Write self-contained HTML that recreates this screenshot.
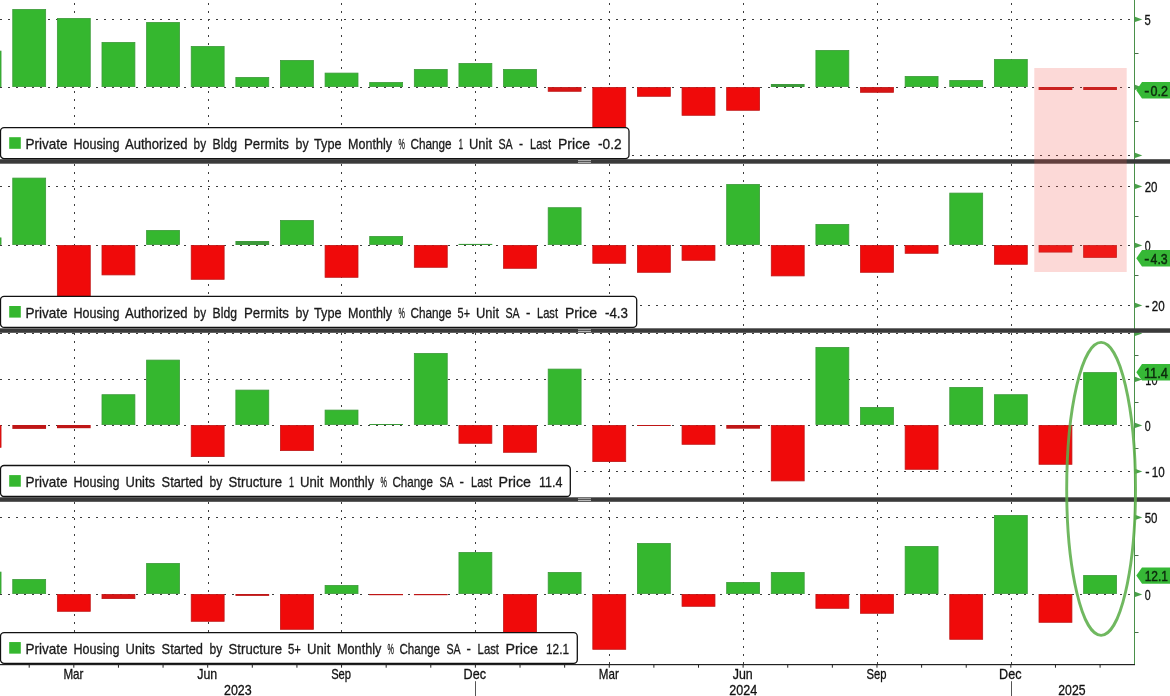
<!DOCTYPE html>
<html lang="en"><head><meta charset="utf-8"><title>Housing permits and starts</title>
<style>html,body{margin:0;padding:0;background:#fff;overflow:hidden}svg{display:block}</style></head>
<body>
<svg width="1170" height="696" viewBox="0 0 1170 696" font-family="'Liberation Sans', sans-serif" font-size="13.5">
<rect width="1170" height="696" fill="#fff"/>
<line x1="0" y1="19.5" x2="1134" y2="19.5" stroke="#3c3c3c" stroke-width="1" stroke-dasharray="2 6"/>
<line x1="0" y1="87.5" x2="1134" y2="87.5" stroke="#3c3c3c" stroke-width="1" stroke-dasharray="2 6"/>
<line x1="0" y1="155.5" x2="1134" y2="155.5" stroke="#3c3c3c" stroke-width="1" stroke-dasharray="2 6"/>
<line x1="74.5" y1="-5" x2="74.5" y2="160" stroke="#3c3c3c" stroke-width="1" stroke-dasharray="2 6"/>
<line x1="208.5" y1="-5" x2="208.5" y2="160" stroke="#3c3c3c" stroke-width="1" stroke-dasharray="2 6"/>
<line x1="341.5" y1="-5" x2="341.5" y2="160" stroke="#3c3c3c" stroke-width="1" stroke-dasharray="2 6"/>
<line x1="475.5" y1="-5" x2="475.5" y2="160" stroke="#3c3c3c" stroke-width="1" stroke-dasharray="2 6"/>
<line x1="609.5" y1="-5" x2="609.5" y2="160" stroke="#3c3c3c" stroke-width="1" stroke-dasharray="2 6"/>
<line x1="743.5" y1="-5" x2="743.5" y2="160" stroke="#3c3c3c" stroke-width="1" stroke-dasharray="2 6"/>
<line x1="877.5" y1="-5" x2="877.5" y2="160" stroke="#3c3c3c" stroke-width="1" stroke-dasharray="2 6"/>
<line x1="1011.5" y1="-5" x2="1011.5" y2="160" stroke="#3c3c3c" stroke-width="1" stroke-dasharray="2 6"/>
<rect x="-31.87" y="51.10" width="32.90" height="35.50" fill="#35b72f" stroke="#3c9a3a" stroke-width="0.8"/>
<rect x="12.75" y="9.40" width="32.90" height="77.20" fill="#35b72f" stroke="#3c9a3a" stroke-width="0.8"/>
<rect x="57.37" y="18.40" width="32.90" height="68.20" fill="#35b72f" stroke="#3c9a3a" stroke-width="0.8"/>
<rect x="101.99" y="42.40" width="32.90" height="44.20" fill="#35b72f" stroke="#3c9a3a" stroke-width="0.8"/>
<rect x="146.61" y="22.40" width="32.90" height="64.20" fill="#35b72f" stroke="#3c9a3a" stroke-width="0.8"/>
<rect x="191.23" y="46.40" width="32.90" height="40.20" fill="#35b72f" stroke="#3c9a3a" stroke-width="0.8"/>
<rect x="235.85" y="77.40" width="32.90" height="9.20" fill="#35b72f" stroke="#3c9a3a" stroke-width="0.8"/>
<rect x="280.47" y="60.40" width="32.90" height="26.20" fill="#35b72f" stroke="#3c9a3a" stroke-width="0.8"/>
<rect x="325.09" y="73.10" width="32.90" height="13.50" fill="#35b72f" stroke="#3c9a3a" stroke-width="0.8"/>
<rect x="369.71" y="82.40" width="32.90" height="4.20" fill="#35b72f" stroke="#3c9a3a" stroke-width="0.8"/>
<rect x="414.33" y="69.40" width="32.90" height="17.20" fill="#35b72f" stroke="#3c9a3a" stroke-width="0.8"/>
<rect x="458.95" y="63.40" width="32.90" height="23.20" fill="#35b72f" stroke="#3c9a3a" stroke-width="0.8"/>
<rect x="503.57" y="69.40" width="32.90" height="17.20" fill="#35b72f" stroke="#3c9a3a" stroke-width="0.8"/>
<rect x="548.19" y="87.40" width="32.90" height="3.90" fill="#d81414" stroke="#bf1616" stroke-width="0.8"/>
<rect x="592.81" y="87.40" width="32.90" height="47.20" fill="#f00a0a" stroke="#bf1616" stroke-width="0.8"/>
<rect x="637.43" y="87.40" width="32.90" height="8.90" fill="#f00a0a" stroke="#bf1616" stroke-width="0.8"/>
<rect x="682.05" y="87.40" width="32.90" height="27.90" fill="#f00a0a" stroke="#bf1616" stroke-width="0.8"/>
<rect x="726.67" y="87.40" width="32.90" height="22.90" fill="#f00a0a" stroke="#bf1616" stroke-width="0.8"/>
<rect x="770.89" y="84.00" width="33.7" height="3.00" fill="#3c9a3a"/>
<rect x="815.91" y="50.40" width="32.90" height="36.20" fill="#35b72f" stroke="#3c9a3a" stroke-width="0.8"/>
<rect x="860.53" y="87.40" width="32.90" height="4.90" fill="#d81414" stroke="#bf1616" stroke-width="0.8"/>
<rect x="905.15" y="76.40" width="32.90" height="10.20" fill="#35b72f" stroke="#3c9a3a" stroke-width="0.8"/>
<rect x="949.77" y="80.40" width="32.90" height="6.20" fill="#35b72f" stroke="#3c9a3a" stroke-width="0.8"/>
<rect x="994.39" y="59.40" width="32.90" height="27.20" fill="#35b72f" stroke="#3c9a3a" stroke-width="0.8"/>
<rect x="1038.61" y="87.00" width="33.7" height="3.00" fill="#bf1616"/>
<rect x="1083.23" y="87.00" width="33.7" height="3.00" fill="#bf1616"/>
<line x1="0" y1="186.5" x2="1134" y2="186.5" stroke="#3c3c3c" stroke-width="1" stroke-dasharray="2 6"/>
<line x1="0" y1="245.5" x2="1134" y2="245.5" stroke="#3c3c3c" stroke-width="1" stroke-dasharray="2 6"/>
<line x1="0" y1="305.5" x2="1134" y2="305.5" stroke="#3c3c3c" stroke-width="1" stroke-dasharray="2 6"/>
<line x1="74.5" y1="164" x2="74.5" y2="328" stroke="#3c3c3c" stroke-width="1" stroke-dasharray="2 6"/>
<line x1="208.5" y1="164" x2="208.5" y2="328" stroke="#3c3c3c" stroke-width="1" stroke-dasharray="2 6"/>
<line x1="341.5" y1="164" x2="341.5" y2="328" stroke="#3c3c3c" stroke-width="1" stroke-dasharray="2 6"/>
<line x1="475.5" y1="164" x2="475.5" y2="328" stroke="#3c3c3c" stroke-width="1" stroke-dasharray="2 6"/>
<line x1="609.5" y1="164" x2="609.5" y2="328" stroke="#3c3c3c" stroke-width="1" stroke-dasharray="2 6"/>
<line x1="743.5" y1="164" x2="743.5" y2="328" stroke="#3c3c3c" stroke-width="1" stroke-dasharray="2 6"/>
<line x1="877.5" y1="164" x2="877.5" y2="328" stroke="#3c3c3c" stroke-width="1" stroke-dasharray="2 6"/>
<line x1="1011.5" y1="164" x2="1011.5" y2="328" stroke="#3c3c3c" stroke-width="1" stroke-dasharray="2 6"/>
<rect x="-31.87" y="237.90" width="32.90" height="6.70" fill="#35b72f" stroke="#3c9a3a" stroke-width="0.8"/>
<rect x="12.75" y="178.10" width="32.90" height="66.50" fill="#35b72f" stroke="#3c9a3a" stroke-width="0.8"/>
<rect x="57.37" y="245.40" width="32.90" height="54.20" fill="#f00a0a" stroke="#bf1616" stroke-width="0.8"/>
<rect x="101.99" y="245.40" width="32.90" height="29.50" fill="#f00a0a" stroke="#bf1616" stroke-width="0.8"/>
<rect x="146.61" y="230.40" width="32.90" height="14.20" fill="#35b72f" stroke="#3c9a3a" stroke-width="0.8"/>
<rect x="191.23" y="245.40" width="32.90" height="33.90" fill="#f00a0a" stroke="#bf1616" stroke-width="0.8"/>
<rect x="235.45" y="241.00" width="33.7" height="4.00" fill="#3c9a3a"/>
<rect x="280.47" y="220.40" width="32.90" height="24.20" fill="#35b72f" stroke="#3c9a3a" stroke-width="0.8"/>
<rect x="325.09" y="245.40" width="32.90" height="31.90" fill="#f00a0a" stroke="#bf1616" stroke-width="0.8"/>
<rect x="369.71" y="236.40" width="32.90" height="8.20" fill="#35b72f" stroke="#3c9a3a" stroke-width="0.8"/>
<rect x="414.33" y="245.40" width="32.90" height="21.90" fill="#f00a0a" stroke="#bf1616" stroke-width="0.8"/>
<rect x="458.55" y="243.90" width="33.7" height="1.10" fill="#3c9a3a"/>
<rect x="503.57" y="245.40" width="32.90" height="22.90" fill="#f00a0a" stroke="#bf1616" stroke-width="0.8"/>
<rect x="548.19" y="207.70" width="32.90" height="36.90" fill="#35b72f" stroke="#3c9a3a" stroke-width="0.8"/>
<rect x="592.81" y="245.40" width="32.90" height="17.90" fill="#f00a0a" stroke="#bf1616" stroke-width="0.8"/>
<rect x="637.43" y="245.40" width="32.90" height="26.90" fill="#f00a0a" stroke="#bf1616" stroke-width="0.8"/>
<rect x="682.05" y="245.40" width="32.90" height="14.90" fill="#f00a0a" stroke="#bf1616" stroke-width="0.8"/>
<rect x="726.67" y="184.40" width="32.90" height="60.20" fill="#35b72f" stroke="#3c9a3a" stroke-width="0.8"/>
<rect x="771.29" y="245.40" width="32.90" height="30.50" fill="#f00a0a" stroke="#bf1616" stroke-width="0.8"/>
<rect x="815.91" y="224.40" width="32.90" height="20.20" fill="#35b72f" stroke="#3c9a3a" stroke-width="0.8"/>
<rect x="860.53" y="245.40" width="32.90" height="26.90" fill="#f00a0a" stroke="#bf1616" stroke-width="0.8"/>
<rect x="905.15" y="245.40" width="32.90" height="7.90" fill="#f00a0a" stroke="#bf1616" stroke-width="0.8"/>
<rect x="949.77" y="193.10" width="32.90" height="51.50" fill="#35b72f" stroke="#3c9a3a" stroke-width="0.8"/>
<rect x="994.39" y="245.40" width="32.90" height="18.90" fill="#f00a0a" stroke="#bf1616" stroke-width="0.8"/>
<rect x="1039.01" y="245.40" width="32.90" height="6.70" fill="#f00a0a" stroke="#bf1616" stroke-width="0.8"/>
<rect x="1083.63" y="245.40" width="32.90" height="12.00" fill="#f00a0a" stroke="#bf1616" stroke-width="0.8"/>
<line x1="0" y1="333.5" x2="1134" y2="333.5" stroke="#3c3c3c" stroke-width="1" stroke-dasharray="2 6"/>
<line x1="0" y1="379.5" x2="1134" y2="379.5" stroke="#3c3c3c" stroke-width="1" stroke-dasharray="2 6"/>
<line x1="0" y1="425.5" x2="1134" y2="425.5" stroke="#3c3c3c" stroke-width="1" stroke-dasharray="2 6"/>
<line x1="0" y1="471.5" x2="1134" y2="471.5" stroke="#3c3c3c" stroke-width="1" stroke-dasharray="2 6"/>
<line x1="74.5" y1="333" x2="74.5" y2="497" stroke="#3c3c3c" stroke-width="1" stroke-dasharray="2 6"/>
<line x1="208.5" y1="333" x2="208.5" y2="497" stroke="#3c3c3c" stroke-width="1" stroke-dasharray="2 6"/>
<line x1="341.5" y1="333" x2="341.5" y2="497" stroke="#3c3c3c" stroke-width="1" stroke-dasharray="2 6"/>
<line x1="475.5" y1="333" x2="475.5" y2="497" stroke="#3c3c3c" stroke-width="1" stroke-dasharray="2 6"/>
<line x1="609.5" y1="333" x2="609.5" y2="497" stroke="#3c3c3c" stroke-width="1" stroke-dasharray="2 6"/>
<line x1="743.5" y1="333" x2="743.5" y2="497" stroke="#3c3c3c" stroke-width="1" stroke-dasharray="2 6"/>
<line x1="877.5" y1="333" x2="877.5" y2="497" stroke="#3c3c3c" stroke-width="1" stroke-dasharray="2 6"/>
<line x1="1011.5" y1="333" x2="1011.5" y2="497" stroke="#3c3c3c" stroke-width="1" stroke-dasharray="2 6"/>
<rect x="-31.87" y="425.40" width="32.90" height="21.90" fill="#f00a0a" stroke="#bf1616" stroke-width="0.8"/>
<rect x="12.35" y="425.00" width="33.7" height="3.90" fill="#bf1616"/>
<rect x="56.97" y="425.00" width="33.7" height="3.20" fill="#bf1616"/>
<rect x="101.99" y="394.70" width="32.90" height="29.90" fill="#35b72f" stroke="#3c9a3a" stroke-width="0.8"/>
<rect x="146.61" y="360.10" width="32.90" height="64.50" fill="#35b72f" stroke="#3c9a3a" stroke-width="0.8"/>
<rect x="191.23" y="425.40" width="32.90" height="31.20" fill="#f00a0a" stroke="#bf1616" stroke-width="0.8"/>
<rect x="235.85" y="390.10" width="32.90" height="34.50" fill="#35b72f" stroke="#3c9a3a" stroke-width="0.8"/>
<rect x="280.47" y="425.40" width="32.90" height="25.20" fill="#f00a0a" stroke="#bf1616" stroke-width="0.8"/>
<rect x="325.09" y="410.10" width="32.90" height="14.50" fill="#35b72f" stroke="#3c9a3a" stroke-width="0.8"/>
<rect x="369.31" y="424.00" width="33.7" height="1.00" fill="#3c9a3a"/>
<rect x="414.33" y="353.40" width="32.90" height="71.20" fill="#35b72f" stroke="#3c9a3a" stroke-width="0.8"/>
<rect x="458.95" y="425.40" width="32.90" height="17.90" fill="#f00a0a" stroke="#bf1616" stroke-width="0.8"/>
<rect x="503.57" y="425.40" width="32.90" height="26.90" fill="#f00a0a" stroke="#bf1616" stroke-width="0.8"/>
<rect x="548.19" y="369.10" width="32.90" height="55.50" fill="#35b72f" stroke="#3c9a3a" stroke-width="0.8"/>
<rect x="592.81" y="425.40" width="32.90" height="36.20" fill="#f00a0a" stroke="#bf1616" stroke-width="0.8"/>
<rect x="637.03" y="425.00" width="33.7" height="1.00" fill="#bf1616"/>
<rect x="682.05" y="425.40" width="32.90" height="18.90" fill="#f00a0a" stroke="#bf1616" stroke-width="0.8"/>
<rect x="726.27" y="425.00" width="33.7" height="3.70" fill="#bf1616"/>
<rect x="771.29" y="425.40" width="32.90" height="55.50" fill="#f00a0a" stroke="#bf1616" stroke-width="0.8"/>
<rect x="815.91" y="347.40" width="32.90" height="77.20" fill="#35b72f" stroke="#3c9a3a" stroke-width="0.8"/>
<rect x="860.53" y="407.40" width="32.90" height="17.20" fill="#35b72f" stroke="#3c9a3a" stroke-width="0.8"/>
<rect x="905.15" y="425.40" width="32.90" height="43.90" fill="#f00a0a" stroke="#bf1616" stroke-width="0.8"/>
<rect x="949.77" y="387.40" width="32.90" height="37.20" fill="#35b72f" stroke="#3c9a3a" stroke-width="0.8"/>
<rect x="994.39" y="394.70" width="32.90" height="29.90" fill="#35b72f" stroke="#3c9a3a" stroke-width="0.8"/>
<rect x="1039.01" y="425.40" width="32.90" height="38.90" fill="#f00a0a" stroke="#bf1616" stroke-width="0.8"/>
<rect x="1083.63" y="372.60" width="32.90" height="52.00" fill="#35b72f" stroke="#3c9a3a" stroke-width="0.8"/>
<line x1="0" y1="517.5" x2="1134" y2="517.5" stroke="#3c3c3c" stroke-width="1" stroke-dasharray="2 6"/>
<line x1="0" y1="594.5" x2="1134" y2="594.5" stroke="#3c3c3c" stroke-width="1" stroke-dasharray="2 6"/>
<line x1="74.5" y1="502" x2="74.5" y2="664" stroke="#3c3c3c" stroke-width="1" stroke-dasharray="2 6"/>
<line x1="208.5" y1="502" x2="208.5" y2="664" stroke="#3c3c3c" stroke-width="1" stroke-dasharray="2 6"/>
<line x1="341.5" y1="502" x2="341.5" y2="664" stroke="#3c3c3c" stroke-width="1" stroke-dasharray="2 6"/>
<line x1="475.5" y1="502" x2="475.5" y2="664" stroke="#3c3c3c" stroke-width="1" stroke-dasharray="2 6"/>
<line x1="609.5" y1="502" x2="609.5" y2="664" stroke="#3c3c3c" stroke-width="1" stroke-dasharray="2 6"/>
<line x1="743.5" y1="502" x2="743.5" y2="664" stroke="#3c3c3c" stroke-width="1" stroke-dasharray="2 6"/>
<line x1="877.5" y1="502" x2="877.5" y2="664" stroke="#3c3c3c" stroke-width="1" stroke-dasharray="2 6"/>
<line x1="1011.5" y1="502" x2="1011.5" y2="664" stroke="#3c3c3c" stroke-width="1" stroke-dasharray="2 6"/>
<rect x="-31.87" y="572.10" width="32.90" height="21.50" fill="#35b72f" stroke="#3c9a3a" stroke-width="0.8"/>
<rect x="12.75" y="579.40" width="32.90" height="14.20" fill="#35b72f" stroke="#3c9a3a" stroke-width="0.8"/>
<rect x="57.37" y="594.40" width="32.90" height="16.90" fill="#f00a0a" stroke="#bf1616" stroke-width="0.8"/>
<rect x="101.99" y="594.40" width="32.90" height="4.20" fill="#d81414" stroke="#bf1616" stroke-width="0.8"/>
<rect x="146.61" y="563.40" width="32.90" height="30.20" fill="#35b72f" stroke="#3c9a3a" stroke-width="0.8"/>
<rect x="191.23" y="594.40" width="32.90" height="26.90" fill="#f00a0a" stroke="#bf1616" stroke-width="0.8"/>
<rect x="235.45" y="594.00" width="33.7" height="1.90" fill="#bf1616"/>
<rect x="280.47" y="594.40" width="32.90" height="34.90" fill="#f00a0a" stroke="#bf1616" stroke-width="0.8"/>
<rect x="325.09" y="585.40" width="32.90" height="8.20" fill="#35b72f" stroke="#3c9a3a" stroke-width="0.8"/>
<rect x="369.31" y="594.00" width="33.7" height="1.20" fill="#bf1616"/>
<rect x="413.93" y="594.00" width="33.7" height="1.20" fill="#bf1616"/>
<rect x="458.95" y="552.40" width="32.90" height="41.20" fill="#35b72f" stroke="#3c9a3a" stroke-width="0.8"/>
<rect x="503.57" y="594.40" width="32.90" height="45.20" fill="#f00a0a" stroke="#bf1616" stroke-width="0.8"/>
<rect x="548.19" y="572.40" width="32.90" height="21.20" fill="#35b72f" stroke="#3c9a3a" stroke-width="0.8"/>
<rect x="592.81" y="594.40" width="32.90" height="54.90" fill="#f00a0a" stroke="#bf1616" stroke-width="0.8"/>
<rect x="637.43" y="543.40" width="32.90" height="50.20" fill="#35b72f" stroke="#3c9a3a" stroke-width="0.8"/>
<rect x="682.05" y="594.40" width="32.90" height="11.90" fill="#f00a0a" stroke="#bf1616" stroke-width="0.8"/>
<rect x="726.67" y="582.40" width="32.90" height="11.20" fill="#35b72f" stroke="#3c9a3a" stroke-width="0.8"/>
<rect x="771.29" y="572.40" width="32.90" height="21.20" fill="#35b72f" stroke="#3c9a3a" stroke-width="0.8"/>
<rect x="815.91" y="594.40" width="32.90" height="13.90" fill="#f00a0a" stroke="#bf1616" stroke-width="0.8"/>
<rect x="860.53" y="594.40" width="32.90" height="18.90" fill="#f00a0a" stroke="#bf1616" stroke-width="0.8"/>
<rect x="905.15" y="546.40" width="32.90" height="47.20" fill="#35b72f" stroke="#3c9a3a" stroke-width="0.8"/>
<rect x="949.77" y="594.40" width="32.90" height="44.90" fill="#f00a0a" stroke="#bf1616" stroke-width="0.8"/>
<rect x="994.39" y="515.40" width="32.90" height="78.20" fill="#35b72f" stroke="#3c9a3a" stroke-width="0.8"/>
<rect x="1039.01" y="594.40" width="32.90" height="27.90" fill="#f00a0a" stroke="#bf1616" stroke-width="0.8"/>
<rect x="1083.63" y="575.40" width="32.90" height="18.20" fill="#35b72f" stroke="#3c9a3a" stroke-width="0.8"/>
<rect x="1134" y="0" width="1" height="665" fill="#4a904a"/>
<path d="M1135 16.8L1142.3 19.45L1135 22.1Z" fill="#49a049"/>
<text y="24.5" font-size="14.3" fill="#111" stroke="#111" stroke-width="0.3"><tspan x="1144.60" textLength="6.21" lengthAdjust="spacingAndGlyphs">5</tspan></text>
<path d="M1135 183.8L1142.3 186.45L1135 189.1Z" fill="#49a049"/>
<text y="191.5" font-size="14.3" fill="#111" stroke="#111" stroke-width="0.3"><tspan x="1144.70" textLength="12.80" lengthAdjust="spacingAndGlyphs">20</tspan></text>
<path d="M1135 242.8L1142.3 245.45L1135 248.1Z" fill="#49a049"/>
<text y="250.5" font-size="14.3" fill="#111" stroke="#111" stroke-width="0.3"><tspan x="1144.70" textLength="5.91" lengthAdjust="spacingAndGlyphs">0</tspan></text>
<path d="M1135 302.8L1142.3 305.45L1135 308.1Z" fill="#49a049"/>
<text y="310.5" font-size="14.3" fill="#111" stroke="#111" stroke-width="0.3"><tspan x="1145.30" textLength="4.31" lengthAdjust="spacingAndGlyphs">-</tspan><tspan x="1151.70" textLength="12.90" lengthAdjust="spacingAndGlyphs">20</tspan></text>
<path d="M1135 376.8L1142.3 379.45L1135 382.1Z" fill="#49a049"/>
<text y="384.5" font-size="14.3" fill="#111" stroke="#111" stroke-width="0.3"><tspan x="1145.30" textLength="12.20" lengthAdjust="spacingAndGlyphs">10</tspan></text>
<path d="M1135 422.8L1142.3 425.45L1135 428.1Z" fill="#49a049"/>
<text y="430.5" font-size="14.3" fill="#111" stroke="#111" stroke-width="0.3"><tspan x="1144.70" textLength="5.91" lengthAdjust="spacingAndGlyphs">0</tspan></text>
<path d="M1135 468.8L1142.3 471.45L1135 474.1Z" fill="#49a049"/>
<text y="476.5" font-size="14.3" fill="#111" stroke="#111" stroke-width="0.3"><tspan x="1145.30" textLength="4.31" lengthAdjust="spacingAndGlyphs">-</tspan><tspan x="1151.70" textLength="12.90" lengthAdjust="spacingAndGlyphs">10</tspan></text>
<path d="M1135 514.8L1142.3 517.45L1135 520.1Z" fill="#49a049"/>
<text y="522.5" font-size="14.3" fill="#111" stroke="#111" stroke-width="0.3"><tspan x="1144.70" textLength="12.80" lengthAdjust="spacingAndGlyphs">50</tspan></text>
<path d="M1135 591.8L1142.3 594.45L1135 597.1Z" fill="#49a049"/>
<text y="599.5" font-size="14.3" fill="#111" stroke="#111" stroke-width="0.3"><tspan x="1144.70" textLength="5.91" lengthAdjust="spacingAndGlyphs">0</tspan></text>
<path d="M1135 152.8L1142.3 155.45L1135 158.1Z" fill="#49a049"/>
<path d="M1135 330.8L1142.3 333.45L1135 336.1Z" fill="#49a049"/>
<path d="M1135 84.8L1142.3 87.45L1135 90.1Z" fill="#49a049"/>
<rect x="1135" y="53" width="3.5" height="1" fill="#4a6a4a"/>
<rect x="1135" y="121" width="3.5" height="1" fill="#4a6a4a"/>
<rect x="1135" y="216" width="3.5" height="1" fill="#4a6a4a"/>
<rect x="1135" y="275" width="3.5" height="1" fill="#4a6a4a"/>
<rect x="1135" y="355" width="3.5" height="1" fill="#4a6a4a"/>
<rect x="1135" y="402" width="3.5" height="1" fill="#4a6a4a"/>
<rect x="1135" y="448" width="3.5" height="1" fill="#4a6a4a"/>
<rect x="1135" y="555" width="3.5" height="1" fill="#4a6a4a"/>
<rect x="1135" y="632" width="3.5" height="1" fill="#4a6a4a"/>
<rect x="0" y="664" width="1135" height="1.2" fill="#222"/>
<rect x="28.70" y="665" width="1" height="2.7" fill="#222"/>
<rect x="73.32" y="665" width="1" height="2.7" fill="#222"/>
<rect x="117.94" y="665" width="1" height="2.7" fill="#222"/>
<rect x="162.56" y="665" width="1" height="2.7" fill="#222"/>
<rect x="207.18" y="665" width="1" height="2.7" fill="#222"/>
<rect x="251.80" y="665" width="1" height="2.7" fill="#222"/>
<rect x="296.42" y="665" width="1" height="2.7" fill="#222"/>
<rect x="341.04" y="665" width="1" height="2.7" fill="#222"/>
<rect x="385.66" y="665" width="1" height="2.7" fill="#222"/>
<rect x="430.28" y="665" width="1" height="2.7" fill="#222"/>
<rect x="474.90" y="665" width="1" height="2.7" fill="#222"/>
<rect x="519.52" y="665" width="1" height="2.7" fill="#222"/>
<rect x="564.14" y="665" width="1" height="2.7" fill="#222"/>
<rect x="608.76" y="665" width="1" height="2.7" fill="#222"/>
<rect x="653.38" y="665" width="1" height="2.7" fill="#222"/>
<rect x="698.00" y="665" width="1" height="2.7" fill="#222"/>
<rect x="742.62" y="665" width="1" height="2.7" fill="#222"/>
<rect x="787.24" y="665" width="1" height="2.7" fill="#222"/>
<rect x="831.86" y="665" width="1" height="2.7" fill="#222"/>
<rect x="876.48" y="665" width="1" height="2.7" fill="#222"/>
<rect x="921.10" y="665" width="1" height="2.7" fill="#222"/>
<rect x="965.72" y="665" width="1" height="2.7" fill="#222"/>
<rect x="1010.34" y="665" width="1" height="2.7" fill="#222"/>
<rect x="1054.96" y="665" width="1" height="2.7" fill="#222"/>
<rect x="1099.58" y="665" width="1" height="2.7" fill="#222"/>
<text y="678.9" font-size="14.3" fill="#111" stroke="#111" stroke-width="0.3"><tspan x="63.42" textLength="20.00" lengthAdjust="spacingAndGlyphs">Mar</tspan></text>
<text y="678.9" font-size="14.3" fill="#111" stroke="#111" stroke-width="0.3"><tspan x="197.28" textLength="20.00" lengthAdjust="spacingAndGlyphs">Jun</tspan></text>
<text y="678.9" font-size="14.3" fill="#111" stroke="#111" stroke-width="0.3"><tspan x="331.14" textLength="19.99" lengthAdjust="spacingAndGlyphs">Sep</tspan></text>
<text y="678.9" font-size="14.3" fill="#111" stroke="#111" stroke-width="0.3"><tspan x="463.60" textLength="22.41" lengthAdjust="spacingAndGlyphs">Dec</tspan></text>
<text y="678.9" font-size="14.3" fill="#111" stroke="#111" stroke-width="0.3"><tspan x="598.86" textLength="20.00" lengthAdjust="spacingAndGlyphs">Mar</tspan></text>
<text y="678.9" font-size="14.3" fill="#111" stroke="#111" stroke-width="0.3"><tspan x="732.72" textLength="20.00" lengthAdjust="spacingAndGlyphs">Jun</tspan></text>
<text y="678.9" font-size="14.3" fill="#111" stroke="#111" stroke-width="0.3"><tspan x="866.58" textLength="19.99" lengthAdjust="spacingAndGlyphs">Sep</tspan></text>
<text y="678.9" font-size="14.3" fill="#111" stroke="#111" stroke-width="0.3"><tspan x="999.04" textLength="22.41" lengthAdjust="spacingAndGlyphs">Dec</tspan></text>
<text y="695.3" font-size="14.3" fill="#111" stroke="#111" stroke-width="0.3"><tspan x="224.00" textLength="27.70" lengthAdjust="spacingAndGlyphs">2023</tspan></text>
<text y="695.3" font-size="14.3" fill="#111" stroke="#111" stroke-width="0.3"><tspan x="729.30" textLength="28.00" lengthAdjust="spacingAndGlyphs">2024</tspan></text>
<text y="695.3" font-size="14.3" fill="#111" stroke="#111" stroke-width="0.3"><tspan x="1058.30" textLength="27.20" lengthAdjust="spacingAndGlyphs">2025</tspan></text>
<rect x="475" y="681.2" width="1" height="15" fill="#555"/>
<rect x="1011" y="681.2" width="1" height="15" fill="#555"/>
<rect x="0" y="159.2" width="1170" height="4.5" fill="#3a3a3a"/>
<rect x="0" y="328.3" width="1170" height="4.5" fill="#3a3a3a"/>
<rect x="0" y="497.3" width="1170" height="4.5" fill="#3a3a3a"/>
<rect x="578" y="160.2" width="13" height="0.9" fill="#c8c8c8"/><rect x="578" y="161.89999999999998" width="13" height="0.9" fill="#c8c8c8"/>
<rect x="578" y="329.3" width="13" height="0.9" fill="#c8c8c8"/><rect x="578" y="331.0" width="13" height="0.9" fill="#c8c8c8"/>
<rect x="578" y="498.3" width="13" height="0.9" fill="#c8c8c8"/><rect x="578" y="500.0" width="13" height="0.9" fill="#c8c8c8"/>
<rect x="1034.3" y="68" width="92.4" height="204" fill="#f2504a" fill-opacity="0.22"/>
<ellipse cx="1101.1" cy="488.9" rx="34.4" ry="146.5" fill="none" stroke="#5cae4a" stroke-opacity="0.88" stroke-width="2.9"/>
<path d="M1136.3 90.3L1142 82.1L1170 82.1L1170 98.5L1142 98.5Z" fill="#36b836"/>
<text y="95.6" font-size="14.3" fill="#0c2a0c" stroke="#0c2a0c" stroke-width="0.45"><tspan x="1144.30" textLength="5.11" lengthAdjust="spacingAndGlyphs">-</tspan><tspan x="1150.60" textLength="17.40" lengthAdjust="spacingAndGlyphs">0.2</tspan></text>
<path d="M1136.3 258.2L1142 250.0L1170 250.0L1170 266.4L1142 266.4Z" fill="#36b836"/>
<text y="263.5" font-size="14.3" fill="#0c2a0c" stroke="#0c2a0c" stroke-width="0.45"><tspan x="1144.30" textLength="5.11" lengthAdjust="spacingAndGlyphs">-</tspan><tspan x="1150.60" textLength="17.10" lengthAdjust="spacingAndGlyphs">4.3</tspan></text>
<path d="M1136.3 372.3L1142 364.1L1170 364.1L1170 380.5L1142 380.5Z" fill="#36b836"/>
<text y="377.6" font-size="14.3" fill="#0c2a0c" stroke="#0c2a0c" stroke-width="0.45"><tspan x="1143.90" textLength="24.10" lengthAdjust="spacingAndGlyphs">11.4</tspan></text>
<path d="M1136.3 575.6L1142 567.4L1170 567.4L1170 583.8000000000001L1142 583.8000000000001Z" fill="#36b836"/>
<text y="580.9" font-size="14.3" fill="#0c2a0c" stroke="#0c2a0c" stroke-width="0.45"><tspan x="1144.70" textLength="23.29" lengthAdjust="spacingAndGlyphs">12.1</tspan></text>
<rect x="0.5" y="127.6" width="628.5" height="31.0" rx="3.6" ry="3.6" fill="#fff" stroke="#111" stroke-width="1.3"/>
<rect x="9.2" y="137.2" width="11.6" height="11.6" fill="#35b72f"/>
<text y="148.8" font-size="14.3" fill="#1a1a1a" stroke="#1a1a1a" stroke-width="0.3"><tspan x="25.40" textLength="42.20" lengthAdjust="spacingAndGlyphs">Private</tspan> <tspan x="73.40" textLength="45.99" lengthAdjust="spacingAndGlyphs">Housing</tspan> <tspan x="125.00" textLength="62.41" lengthAdjust="spacingAndGlyphs">Authorized</tspan> <tspan x="193.60" textLength="12.41" lengthAdjust="spacingAndGlyphs">by</tspan> <tspan x="212.60" textLength="24.39" lengthAdjust="spacingAndGlyphs">Bldg</tspan> <tspan x="244.00" textLength="44.99" lengthAdjust="spacingAndGlyphs">Permits</tspan> <tspan x="295.60" textLength="13.01" lengthAdjust="spacingAndGlyphs">by</tspan> <tspan x="314.00" textLength="27.61" lengthAdjust="spacingAndGlyphs">Type</tspan> <tspan x="348.00" textLength="43.99" lengthAdjust="spacingAndGlyphs">Monthly</tspan> <tspan x="398.60" textLength="6.39" lengthAdjust="spacingAndGlyphs">%</tspan> <tspan x="410.40" textLength="41.21" lengthAdjust="spacingAndGlyphs">Change</tspan> <tspan x="458.40" textLength="4.61" lengthAdjust="spacingAndGlyphs">1</tspan> <tspan x="469.00" textLength="23.01" lengthAdjust="spacingAndGlyphs">Unit</tspan> <tspan x="498.40" textLength="13.59" lengthAdjust="spacingAndGlyphs">SA</tspan> <tspan x="519.00" textLength="4.01" lengthAdjust="spacingAndGlyphs">-</tspan> <tspan x="530.00" textLength="21.00" lengthAdjust="spacingAndGlyphs">Last</tspan> <tspan x="558.00" textLength="32.01" lengthAdjust="spacingAndGlyphs">Price</tspan> <tspan x="598.00" textLength="23.61" lengthAdjust="spacingAndGlyphs">-0.2</tspan></text>
<rect x="0.5" y="296.4" width="636.2" height="31.0" rx="3.6" ry="3.6" fill="#fff" stroke="#111" stroke-width="1.3"/>
<rect x="9.2" y="306.0" width="11.6" height="11.6" fill="#35b72f"/>
<text y="317.6" font-size="14.3" fill="#1a1a1a" stroke="#1a1a1a" stroke-width="0.3"><tspan x="25.40" textLength="42.20" lengthAdjust="spacingAndGlyphs">Private</tspan> <tspan x="73.40" textLength="45.99" lengthAdjust="spacingAndGlyphs">Housing</tspan> <tspan x="125.00" textLength="62.41" lengthAdjust="spacingAndGlyphs">Authorized</tspan> <tspan x="193.60" textLength="12.41" lengthAdjust="spacingAndGlyphs">by</tspan> <tspan x="212.60" textLength="24.39" lengthAdjust="spacingAndGlyphs">Bldg</tspan> <tspan x="244.00" textLength="44.99" lengthAdjust="spacingAndGlyphs">Permits</tspan> <tspan x="295.60" textLength="13.01" lengthAdjust="spacingAndGlyphs">by</tspan> <tspan x="314.00" textLength="27.61" lengthAdjust="spacingAndGlyphs">Type</tspan> <tspan x="348.00" textLength="43.99" lengthAdjust="spacingAndGlyphs">Monthly</tspan> <tspan x="398.60" textLength="6.39" lengthAdjust="spacingAndGlyphs">%</tspan> <tspan x="410.40" textLength="41.21" lengthAdjust="spacingAndGlyphs">Change</tspan> <tspan x="457.60" textLength="12.40" lengthAdjust="spacingAndGlyphs">5+</tspan> <tspan x="476.00" textLength="23.01" lengthAdjust="spacingAndGlyphs">Unit</tspan> <tspan x="505.40" textLength="13.59" lengthAdjust="spacingAndGlyphs">SA</tspan> <tspan x="526.00" textLength="4.41" lengthAdjust="spacingAndGlyphs">-</tspan> <tspan x="537.00" textLength="21.00" lengthAdjust="spacingAndGlyphs">Last</tspan> <tspan x="565.00" textLength="32.01" lengthAdjust="spacingAndGlyphs">Price</tspan> <tspan x="605.00" textLength="23.01" lengthAdjust="spacingAndGlyphs">-4.3</tspan></text>
<rect x="0.5" y="465.5" width="569.8" height="31.0" rx="3.6" ry="3.6" fill="#fff" stroke="#111" stroke-width="1.3"/>
<rect x="9.2" y="475.1" width="11.6" height="11.6" fill="#35b72f"/>
<text y="486.7" font-size="14.3" fill="#1a1a1a" stroke="#1a1a1a" stroke-width="0.3"><tspan x="25.40" textLength="42.20" lengthAdjust="spacingAndGlyphs">Private</tspan> <tspan x="73.40" textLength="45.99" lengthAdjust="spacingAndGlyphs">Housing</tspan> <tspan x="125.60" textLength="29.41" lengthAdjust="spacingAndGlyphs">Units</tspan> <tspan x="161.60" textLength="41.39" lengthAdjust="spacingAndGlyphs">Started</tspan> <tspan x="209.60" textLength="12.81" lengthAdjust="spacingAndGlyphs">by</tspan> <tspan x="228.60" textLength="53.40" lengthAdjust="spacingAndGlyphs">Structure</tspan> <tspan x="289.00" textLength="5.01" lengthAdjust="spacingAndGlyphs">1</tspan> <tspan x="300.00" textLength="23.41" lengthAdjust="spacingAndGlyphs">Unit</tspan> <tspan x="329.60" textLength="44.39" lengthAdjust="spacingAndGlyphs">Monthly</tspan> <tspan x="380.60" textLength="6.39" lengthAdjust="spacingAndGlyphs">%</tspan> <tspan x="392.40" textLength="40.61" lengthAdjust="spacingAndGlyphs">Change</tspan> <tspan x="439.40" textLength="13.59" lengthAdjust="spacingAndGlyphs">SA</tspan> <tspan x="459.60" textLength="4.41" lengthAdjust="spacingAndGlyphs">-</tspan> <tspan x="471.00" textLength="21.00" lengthAdjust="spacingAndGlyphs">Last</tspan> <tspan x="498.60" textLength="32.41" lengthAdjust="spacingAndGlyphs">Price</tspan> <tspan x="539.00" textLength="23.40" lengthAdjust="spacingAndGlyphs">11.4</tspan></text>
<rect x="0.5" y="632.6" width="576.8" height="30.699999999999932" rx="3.6" ry="3.6" fill="#fff" stroke="#111" stroke-width="1.3"/>
<rect x="9.2" y="642.0500000000001" width="11.6" height="11.6" fill="#35b72f"/>
<text y="653.7" font-size="14.3" fill="#1a1a1a" stroke="#1a1a1a" stroke-width="0.3"><tspan x="25.40" textLength="42.20" lengthAdjust="spacingAndGlyphs">Private</tspan> <tspan x="73.40" textLength="45.99" lengthAdjust="spacingAndGlyphs">Housing</tspan> <tspan x="125.60" textLength="29.41" lengthAdjust="spacingAndGlyphs">Units</tspan> <tspan x="161.60" textLength="41.39" lengthAdjust="spacingAndGlyphs">Started</tspan> <tspan x="209.60" textLength="12.81" lengthAdjust="spacingAndGlyphs">by</tspan> <tspan x="228.60" textLength="53.40" lengthAdjust="spacingAndGlyphs">Structure</tspan> <tspan x="288.00" textLength="13.00" lengthAdjust="spacingAndGlyphs">5+</tspan> <tspan x="307.00" textLength="23.41" lengthAdjust="spacingAndGlyphs">Unit</tspan> <tspan x="337.00" textLength="44.39" lengthAdjust="spacingAndGlyphs">Monthly</tspan> <tspan x="387.60" textLength="6.39" lengthAdjust="spacingAndGlyphs">%</tspan> <tspan x="399.40" textLength="40.61" lengthAdjust="spacingAndGlyphs">Change</tspan> <tspan x="446.40" textLength="13.59" lengthAdjust="spacingAndGlyphs">SA</tspan> <tspan x="466.60" textLength="4.41" lengthAdjust="spacingAndGlyphs">-</tspan> <tspan x="477.60" textLength="21.40" lengthAdjust="spacingAndGlyphs">Last</tspan> <tspan x="505.60" textLength="32.41" lengthAdjust="spacingAndGlyphs">Price</tspan> <tspan x="546.00" textLength="22.99" lengthAdjust="spacingAndGlyphs">12.1</tspan></text>
</svg>
</body></html>
